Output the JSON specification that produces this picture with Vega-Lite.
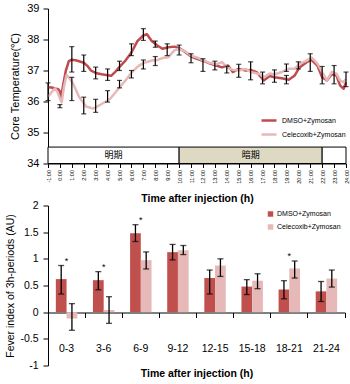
{
  "$schema": "https://vega.github.io/schema/vega-lite/v6.json",
  "padding": {"left": 5, "top": 2.5, "right": 0, "bottom": 0},
  "bounds": "flush",
  "spacing": 42,
  "config": {
    "font": "Liberation Sans",
    "view": {"stroke": null},
    "axis": {"grid": false, "labelOverlap": false, "domainColor": "black", "tickColor": "black", "labelColor": "black", "titleColor": "black", "labelFont": "Liberation Sans", "titleFont": "Liberation Sans"},
    "legend": {"labelFont": "Liberation Sans", "labelColor": "black", "padding": 0}
  },
  "resolve": {"scale": {"color": "independent"}, "legend": {"color": "independent"}},
  "datasets": {
    "temp": [
      {"hour": -1, "series": "DMSO+Zymosan", "temp": 36.46}, {"hour": -0.7, "series": "DMSO+Zymosan", "temp": 36.45}, {"hour": -0.4, "series": "DMSO+Zymosan", "temp": 36.42}, {"hour": -0.15, "series": "DMSO+Zymosan", "temp": 36.4}, {"hour": 0, "series": "DMSO+Zymosan", "temp": 36.32}, {"hour": 0.1, "series": "DMSO+Zymosan", "temp": 36.14}, {"hour": 0.3, "series": "DMSO+Zymosan", "temp": 36.6}, {"hour": 0.5, "series": "DMSO+Zymosan", "temp": 37.0}, {"hour": 0.75, "series": "DMSO+Zymosan", "temp": 37.3}, {"hour": 1.0, "series": "DMSO+Zymosan", "temp": 37.35}, {"hour": 1.3, "series": "DMSO+Zymosan", "temp": 37.33}, {"hour": 1.6, "series": "DMSO+Zymosan", "temp": 37.3}, {"hour": 2.0, "series": "DMSO+Zymosan", "temp": 37.25}, {"hour": 2.3, "series": "DMSO+Zymosan", "temp": 37.15}, {"hour": 2.6, "series": "DMSO+Zymosan", "temp": 37.0}, {"hour": 3.0, "series": "DMSO+Zymosan", "temp": 36.92}, {"hour": 3.5, "series": "DMSO+Zymosan", "temp": 36.88}, {"hour": 4.0, "series": "DMSO+Zymosan", "temp": 36.85}, {"hour": 4.3, "series": "DMSO+Zymosan", "temp": 36.83}, {"hour": 4.7, "series": "DMSO+Zymosan", "temp": 36.98}, {"hour": 5.0, "series": "DMSO+Zymosan", "temp": 37.12}, {"hour": 5.5, "series": "DMSO+Zymosan", "temp": 37.32}, {"hour": 6.0, "series": "DMSO+Zymosan", "temp": 37.58}, {"hour": 6.5, "series": "DMSO+Zymosan", "temp": 37.95}, {"hour": 7.0, "series": "DMSO+Zymosan", "temp": 38.13}, {"hour": 7.3, "series": "DMSO+Zymosan", "temp": 38.17}, {"hour": 7.7, "series": "DMSO+Zymosan", "temp": 37.95}, {"hour": 8.2, "series": "DMSO+Zymosan", "temp": 37.8}, {"hour": 8.6, "series": "DMSO+Zymosan", "temp": 37.7}, {"hour": 9.1, "series": "DMSO+Zymosan", "temp": 37.75}, {"hour": 9.6, "series": "DMSO+Zymosan", "temp": 37.77}, {"hour": 10.0, "series": "DMSO+Zymosan", "temp": 37.72}, {"hour": 10.5, "series": "DMSO+Zymosan", "temp": 37.6}, {"hour": 11.0, "series": "DMSO+Zymosan", "temp": 37.45}, {"hour": 11.5, "series": "DMSO+Zymosan", "temp": 37.38}, {"hour": 12.1, "series": "DMSO+Zymosan", "temp": 37.3}, {"hour": 12.6, "series": "DMSO+Zymosan", "temp": 37.22}, {"hour": 13.1, "series": "DMSO+Zymosan", "temp": 37.16}, {"hour": 13.6, "series": "DMSO+Zymosan", "temp": 37.1}, {"hour": 14.1, "series": "DMSO+Zymosan", "temp": 37.16}, {"hour": 14.5, "series": "DMSO+Zymosan", "temp": 36.95}, {"hour": 15.0, "series": "DMSO+Zymosan", "temp": 37.05}, {"hour": 15.6, "series": "DMSO+Zymosan", "temp": 37.0}, {"hour": 16.0, "series": "DMSO+Zymosan", "temp": 37.02}, {"hour": 16.5, "series": "DMSO+Zymosan", "temp": 36.95}, {"hour": 17.1, "series": "DMSO+Zymosan", "temp": 36.68}, {"hour": 17.6, "series": "DMSO+Zymosan", "temp": 36.82}, {"hour": 18.0, "series": "DMSO+Zymosan", "temp": 36.78}, {"hour": 18.6, "series": "DMSO+Zymosan", "temp": 36.75}, {"hour": 19.2, "series": "DMSO+Zymosan", "temp": 36.7}, {"hour": 19.7, "series": "DMSO+Zymosan", "temp": 36.84}, {"hour": 20.1, "series": "DMSO+Zymosan", "temp": 37.1}, {"hour": 20.7, "series": "DMSO+Zymosan", "temp": 37.27}, {"hour": 21.1, "series": "DMSO+Zymosan", "temp": 37.34}, {"hour": 21.6, "series": "DMSO+Zymosan", "temp": 37.16}, {"hour": 22.0, "series": "DMSO+Zymosan", "temp": 36.78}, {"hour": 22.4, "series": "DMSO+Zymosan", "temp": 36.68}, {"hour": 22.8, "series": "DMSO+Zymosan", "temp": 36.88}, {"hour": 23.2, "series": "DMSO+Zymosan", "temp": 36.84}, {"hour": 23.5, "series": "DMSO+Zymosan", "temp": 36.52}, {"hour": 23.8, "series": "DMSO+Zymosan", "temp": 36.41}, {"hour": 24, "series": "DMSO+Zymosan", "temp": 36.62},
      {"hour": -1, "series": "Celecoxib+Zymosan", "temp": 36.15}, {"hour": -0.7, "series": "Celecoxib+Zymosan", "temp": 36.3}, {"hour": -0.4, "series": "Celecoxib+Zymosan", "temp": 36.42}, {"hour": -0.2, "series": "Celecoxib+Zymosan", "temp": 36.3}, {"hour": 0, "series": "Celecoxib+Zymosan", "temp": 36.1}, {"hour": 0.15, "series": "Celecoxib+Zymosan", "temp": 35.97}, {"hour": 0.35, "series": "Celecoxib+Zymosan", "temp": 36.5}, {"hour": 0.55, "series": "Celecoxib+Zymosan", "temp": 36.85}, {"hour": 0.8, "series": "Celecoxib+Zymosan", "temp": 36.75}, {"hour": 1.1, "series": "Celecoxib+Zymosan", "temp": 36.58}, {"hour": 1.6, "series": "Celecoxib+Zymosan", "temp": 36.15}, {"hour": 2.2, "series": "Celecoxib+Zymosan", "temp": 35.84}, {"hour": 2.8, "series": "Celecoxib+Zymosan", "temp": 35.77}, {"hour": 3.5, "series": "Celecoxib+Zymosan", "temp": 35.92}, {"hour": 4.2, "series": "Celecoxib+Zymosan", "temp": 36.08}, {"hour": 5.0, "series": "Celecoxib+Zymosan", "temp": 36.45}, {"hour": 5.5, "series": "Celecoxib+Zymosan", "temp": 36.68}, {"hour": 6.0, "series": "Celecoxib+Zymosan", "temp": 36.93}, {"hour": 6.6, "series": "Celecoxib+Zymosan", "temp": 37.15}, {"hour": 7.0, "series": "Celecoxib+Zymosan", "temp": 37.24}, {"hour": 7.7, "series": "Celecoxib+Zymosan", "temp": 37.32}, {"hour": 8.2, "series": "Celecoxib+Zymosan", "temp": 37.34}, {"hour": 8.6, "series": "Celecoxib+Zymosan", "temp": 37.4}, {"hour": 9.1, "series": "Celecoxib+Zymosan", "temp": 37.43}, {"hour": 9.6, "series": "Celecoxib+Zymosan", "temp": 37.65}, {"hour": 10.0, "series": "Celecoxib+Zymosan", "temp": 37.7}, {"hour": 10.5, "series": "Celecoxib+Zymosan", "temp": 37.62}, {"hour": 11.0, "series": "Celecoxib+Zymosan", "temp": 37.48}, {"hour": 11.5, "series": "Celecoxib+Zymosan", "temp": 37.42}, {"hour": 12.1, "series": "Celecoxib+Zymosan", "temp": 37.32}, {"hour": 12.6, "series": "Celecoxib+Zymosan", "temp": 37.24}, {"hour": 13.1, "series": "Celecoxib+Zymosan", "temp": 37.2}, {"hour": 13.6, "series": "Celecoxib+Zymosan", "temp": 37.27}, {"hour": 14.0, "series": "Celecoxib+Zymosan", "temp": 37.1}, {"hour": 14.5, "series": "Celecoxib+Zymosan", "temp": 37.02}, {"hour": 15.0, "series": "Celecoxib+Zymosan", "temp": 37.0}, {"hour": 15.6, "series": "Celecoxib+Zymosan", "temp": 37.05}, {"hour": 16.0, "series": "Celecoxib+Zymosan", "temp": 36.95}, {"hour": 16.8, "series": "Celecoxib+Zymosan", "temp": 36.88}, {"hour": 17.1, "series": "Celecoxib+Zymosan", "temp": 36.78}, {"hour": 17.6, "series": "Celecoxib+Zymosan", "temp": 36.9}, {"hour": 18.0, "series": "Celecoxib+Zymosan", "temp": 36.87}, {"hour": 18.6, "series": "Celecoxib+Zymosan", "temp": 36.95}, {"hour": 19.2, "series": "Celecoxib+Zymosan", "temp": 37.06}, {"hour": 19.7, "series": "Celecoxib+Zymosan", "temp": 37.06}, {"hour": 20.1, "series": "Celecoxib+Zymosan", "temp": 37.21}, {"hour": 20.7, "series": "Celecoxib+Zymosan", "temp": 37.32}, {"hour": 21.1, "series": "Celecoxib+Zymosan", "temp": 37.42}, {"hour": 21.6, "series": "Celecoxib+Zymosan", "temp": 37.22}, {"hour": 22.0, "series": "Celecoxib+Zymosan", "temp": 36.95}, {"hour": 22.4, "series": "Celecoxib+Zymosan", "temp": 36.68}, {"hour": 22.8, "series": "Celecoxib+Zymosan", "temp": 36.95}, {"hour": 23.2, "series": "Celecoxib+Zymosan", "temp": 36.9}, {"hour": 23.5, "series": "Celecoxib+Zymosan", "temp": 36.68}, {"hour": 23.8, "series": "Celecoxib+Zymosan", "temp": 36.62}, {"hour": 24, "series": "Celecoxib+Zymosan", "temp": 36.73}
    ],
    "temperr": [
      {"hour": 1, "series": "DMSO+Zymosan", "lo": 36.95, "hi": 37.77}, {"hour": 2, "series": "DMSO+Zymosan", "lo": 36.97, "hi": 37.5}, {"hour": 3, "series": "DMSO+Zymosan", "lo": 36.73, "hi": 37.11}, {"hour": 4, "series": "DMSO+Zymosan", "lo": 36.68, "hi": 37.05}, {"hour": 5, "series": "DMSO+Zymosan", "lo": 37.0, "hi": 37.3}, {"hour": 6, "series": "DMSO+Zymosan", "lo": 37.48, "hi": 37.86}, {"hour": 7, "series": "DMSO+Zymosan", "lo": 37.97, "hi": 38.35}, {"hour": 8, "series": "DMSO+Zymosan", "lo": 37.75, "hi": 37.95}, {"hour": 9, "series": "DMSO+Zymosan", "lo": 37.48, "hi": 37.86}, {"hour": 10, "series": "DMSO+Zymosan", "lo": 37.5, "hi": 37.82}, {"hour": 11, "series": "DMSO+Zymosan", "lo": 37.25, "hi": 37.54}, {"hour": 12, "series": "DMSO+Zymosan", "lo": 36.97, "hi": 37.38}, {"hour": 13, "series": "DMSO+Zymosan", "lo": 37.02, "hi": 37.3}, {"hour": 14, "series": "DMSO+Zymosan", "lo": 36.92, "hi": 37.14}, {"hour": 15, "series": "DMSO+Zymosan", "lo": 36.78, "hi": 37.2}, {"hour": 16, "series": "DMSO+Zymosan", "lo": 36.7, "hi": 37.28}, {"hour": 17, "series": "DMSO+Zymosan", "lo": 36.57, "hi": 36.95}, {"hour": 18, "series": "DMSO+Zymosan", "lo": 36.62, "hi": 37.02}, {"hour": 19, "series": "DMSO+Zymosan", "lo": 36.57, "hi": 36.84}, {"hour": 20, "series": "DMSO+Zymosan", "lo": 37.05, "hi": 37.28}, {"hour": 21, "series": "DMSO+Zymosan", "lo": 36.97, "hi": 37.54}, {"hour": 22, "series": "DMSO+Zymosan", "lo": 36.57, "hi": 37.13}, {"hour": 23, "series": "DMSO+Zymosan", "lo": 36.57, "hi": 37.16}, {"hour": 24, "series": "DMSO+Zymosan", "lo": 36.48, "hi": 36.95},
      {"hour": -1, "series": "Celecoxib+Zymosan", "lo": 36.03, "hi": 36.6}, {"hour": 0, "series": "Celecoxib+Zymosan", "lo": 35.8, "hi": 35.9}, {"hour": 1, "series": "Celecoxib+Zymosan", "lo": 36.03, "hi": 36.78}, {"hour": 2, "series": "Celecoxib+Zymosan", "lo": 35.6, "hi": 36.14}, {"hour": 3, "series": "Celecoxib+Zymosan", "lo": 35.65, "hi": 36.07}, {"hour": 4, "series": "Celecoxib+Zymosan", "lo": 35.98, "hi": 36.35}, {"hour": 5, "series": "Celecoxib+Zymosan", "lo": 36.44, "hi": 36.68}, {"hour": 6, "series": "Celecoxib+Zymosan", "lo": 36.76, "hi": 37.0}, {"hour": 7, "series": "Celecoxib+Zymosan", "lo": 37.05, "hi": 37.34}, {"hour": 8, "series": "Celecoxib+Zymosan", "lo": 37.16, "hi": 37.45}, {"hour": 19, "series": "Celecoxib+Zymosan", "lo": 36.97, "hi": 37.21}
    ],
    "periods": [
      {"start": -1, "end": 10, "mid": 4.5, "phase": "明期", "label": "明期"},
      {"start": 10, "end": 22, "mid": 16, "phase": "暗期", "label": "暗期"},
      {"start": 22, "end": 24, "mid": 23, "phase": "明期", "label": ""}
    ],
    "fever": [
      {"period": "0-3", "series": "DMSO+Zymosan", "value": 0.62, "lo": 0.34, "hi": 0.875, "sig": "*"},
      {"period": "0-3", "series": "Celecoxib+Zymosan", "value": -0.12, "lo": -0.34, "hi": 0.16, "sig": ""},
      {"period": "3-6", "series": "DMSO+Zymosan", "value": 0.6, "lo": 0.42, "hi": 0.76, "sig": "*"},
      {"period": "3-6", "series": "Celecoxib+Zymosan", "value": 0.04, "lo": -0.21, "hi": 0.29, "sig": ""},
      {"period": "6-9", "series": "DMSO+Zymosan", "value": 1.48, "lo": 1.325, "hi": 1.64, "sig": "*"},
      {"period": "6-9", "series": "Celecoxib+Zymosan", "value": 0.975, "lo": 0.81, "hi": 1.13, "sig": ""},
      {"period": "9-12", "series": "DMSO+Zymosan", "value": 1.125, "lo": 0.98, "hi": 1.27, "sig": ""},
      {"period": "9-12", "series": "Celecoxib+Zymosan", "value": 1.16, "lo": 1.08, "hi": 1.25, "sig": ""},
      {"period": "12-15", "series": "DMSO+Zymosan", "value": 0.64, "lo": 0.34, "hi": 0.79, "sig": ""},
      {"period": "12-15", "series": "Celecoxib+Zymosan", "value": 0.875, "lo": 0.67, "hi": 1.0, "sig": ""},
      {"period": "15-18", "series": "DMSO+Zymosan", "value": 0.48, "lo": 0.33, "hi": 0.61, "sig": ""},
      {"period": "15-18", "series": "Celecoxib+Zymosan", "value": 0.59, "lo": 0.44, "hi": 0.72, "sig": ""},
      {"period": "18-21", "series": "DMSO+Zymosan", "value": 0.425, "lo": 0.25, "hi": 0.59, "sig": ""},
      {"period": "18-21", "series": "Celecoxib+Zymosan", "value": 0.82, "lo": 0.64, "hi": 0.96, "sig": "*"},
      {"period": "21-24", "series": "DMSO+Zymosan", "value": 0.39, "lo": 0.2, "hi": 0.575, "sig": ""},
      {"period": "21-24", "series": "Celecoxib+Zymosan", "value": 0.63, "lo": 0.47, "hi": 0.79, "sig": ""}
    ]
  },
  "vconcat": [
    {
      "width": 298,
      "height": 155,
      "layer": [
        {
          "data": {"name": "periods"},
          "mark": {"type": "rect", "stroke": "black", "strokeWidth": 1},
          "encoding": {
            "x": {"field": "start", "type": "quantitative", "title": "Time after injection (h)",
              "scale": {"domain": [-1, 24], "nice": false, "zero": false},
              "axis": {"values": [-1,0,1,2,3,4,5,6,7,8,9,10,11,12,13,14,15,16,17,18,19,20,21,22,23,24], "tickCount": 100, "labelExpr": "datum.value + ':00'", "labelAngle": -90, "labelAlign": "right", "labelBaseline": "middle", "labelFontSize": 5.5, "tickSize": 4, "labelPadding": 2, "labelOverlap": false, "labelFlush": false, "labelBound": false, "titleFontWeight": "bold", "titleFontSize": 10.5, "titlePadding": 10}},
            "x2": {"field": "end"},
            "y": {"datum": 34, "type": "quantitative", "title": "Core Temperature(℃)",
              "scale": {"domain": [34, 39], "nice": false, "zero": false},
              "axis": {"values": [34,35,36,37,38,39], "tickCount": 100, "labelExpr": "'' + datum.value", "labelOverlap": false, "tickSize": 5, "labelPadding": 4, "labelFontSize": 11, "titleFontSize": 11, "titleFontWeight": "normal", "titlePadding": 6}},
            "y2": {"datum": 34.53},
            "fill": {"field": "phase", "type": "nominal", "scale": {"domain": ["明期", "暗期"], "range": ["#ffffff", "#ddd9c3"]}, "legend": null}
          }
        },
        {
          "data": {"name": "periods"},
          "mark": {"type": "text", "font": "Noto Sans CJK JP", "fontSize": 9, "color": "black", "baseline": "middle"},
          "encoding": {
            "x": {"field": "mid", "type": "quantitative", "title": "Time after injection (h)"},
            "y": {"datum": 34.26, "type": "quantitative", "title": "Core Temperature(℃)"},
            "text": {"field": "label"}
          }
        },
        {
          "data": {"name": "temp"},
          "mark": {"type": "line", "strokeWidth": 2.5, "strokeJoin": "round"},
          "encoding": {
            "x": {"field": "hour", "type": "quantitative", "title": "Time after injection (h)"},
            "y": {"field": "temp", "type": "quantitative", "title": "Core Temperature(℃)"},
            "color": {"field": "series", "type": "nominal",
              "scale": {"domain": ["DMSO+Zymosan", "Celecoxib+Zymosan"], "range": ["#bf4b4f", "#e6b9b8"]},
              "legend": {"orient": "none", "legendX": 212, "legendY": 103, "title": null, "symbolType": "stroke", "symbolStrokeWidth": 2.5, "symbolSize": 225, "labelFontSize": 7, "rowPadding": -1, "labelOffset": 4}}
          }
        },
        {
          "data": {"name": "temperr"},
          "mark": {"type": "rule", "color": "black", "strokeWidth": 1.2},
          "encoding": {
            "x": {"field": "hour", "type": "quantitative", "title": "Time after injection (h)"},
            "y": {"field": "lo", "type": "quantitative", "title": "Core Temperature(℃)"},
            "y2": {"field": "hi"}
          }
        },
        {
          "data": {"name": "temperr"},
          "mark": {"type": "tick", "orient": "horizontal", "color": "black", "size": 5, "thickness": 1.2},
          "encoding": {
            "x": {"field": "hour", "type": "quantitative", "title": "Time after injection (h)"},
            "y": {"field": "lo", "type": "quantitative", "title": "Core Temperature(℃)"}
          }
        },
        {
          "data": {"name": "temperr"},
          "mark": {"type": "tick", "orient": "horizontal", "color": "black", "size": 5, "thickness": 1.2},
          "encoding": {
            "x": {"field": "hour", "type": "quantitative", "title": "Time after injection (h)"},
            "y": {"field": "hi", "type": "quantitative", "title": "Core Temperature(℃)"}
          }
        }
      ]
    },
    {
      "width": 297,
      "height": 160,
      "data": {"name": "fever"},
      "encoding": {
        "x": {"field": "period", "type": "nominal", "title": "Time after injection (h)",
          "sort": ["0-3", "3-6", "6-9", "9-12", "12-15", "15-18", "18-21", "21-24"],
          "scale": {"paddingInner": 0, "paddingOuter": 0},
          "axis": {"labelAngle": 0, "offset": -53, "bandPosition": 1, "tickExtra": true, "tickSize": 5, "labelPadding": 25.5, "labelFontSize": 10.5, "labelOverlap": false, "titleFontWeight": "bold", "titleFontSize": 10.5, "titlePadding": 15}},
        "y": {"type": "quantitative", "title": "Fever index of 3h-periods (AU)"}
      },
      "layer": [
        {
          "mark": {"type": "bar"},
          "encoding": {
            "xOffset": {"field": "series", "type": "nominal", "sort": ["DMSO+Zymosan", "Celecoxib+Zymosan"], "scale": {"paddingInner": 0, "paddingOuter": 0.73}},
            "y": {"field": "value", "type": "quantitative", "title": "Fever index of 3h-periods (AU)",
              "scale": {"domain": [-1, 2], "nice": false, "zero": false},
              "axis": {"values": [-1, -0.5, 0, 0.5, 1, 1.5, 2], "tickCount": 100, "labelExpr": "'' + datum.value", "labelOverlap": false, "tickSize": 5, "labelPadding": 5, "labelFontSize": 10.5, "titleFontSize": 10.5, "titleFontWeight": "normal", "titlePadding": 4}},
            "color": {"field": "series", "type": "nominal",
              "scale": {"domain": ["DMSO+Zymosan", "Celecoxib+Zymosan"], "range": ["#c0504d", "#e6b9b8"]},
              "legend": {"orient": "none", "legendX": 219, "legendY": 5, "title": null, "symbolType": "square", "symbolSize": 30, "labelFontSize": 7, "rowPadding": 5, "labelOffset": 3}}
          }
        },
        {
          "mark": {"type": "rule", "color": "black", "strokeWidth": 1.3},
          "encoding": {
            "xOffset": {"field": "series", "type": "nominal", "sort": ["DMSO+Zymosan", "Celecoxib+Zymosan"]},
            "y": {"field": "lo", "type": "quantitative", "title": "Fever index of 3h-periods (AU)"},
            "y2": {"field": "hi"}
          }
        },
        {
          "mark": {"type": "tick", "color": "black", "size": 6, "thickness": 1.3},
          "encoding": {
            "xOffset": {"field": "series", "type": "nominal", "sort": ["DMSO+Zymosan", "Celecoxib+Zymosan"]},
            "y": {"field": "lo", "type": "quantitative", "title": "Fever index of 3h-periods (AU)"}
          }
        },
        {
          "mark": {"type": "tick", "color": "black", "size": 6, "thickness": 1.3},
          "encoding": {
            "xOffset": {"field": "series", "type": "nominal", "sort": ["DMSO+Zymosan", "Celecoxib+Zymosan"]},
            "y": {"field": "hi", "type": "quantitative", "title": "Fever index of 3h-periods (AU)"}
          }
        },
        {
          "transform": [{"filter": "datum.sig == '*'"}],
          "mark": {"type": "text", "fontSize": 9, "color": "black", "baseline": "alphabetic", "dy": -2},
          "encoding": {
            "y": {"field": "hi", "type": "quantitative", "title": "Fever index of 3h-periods (AU)"},
            "text": {"field": "sig"}
          }
        }
      ]
    }
  ]
}
